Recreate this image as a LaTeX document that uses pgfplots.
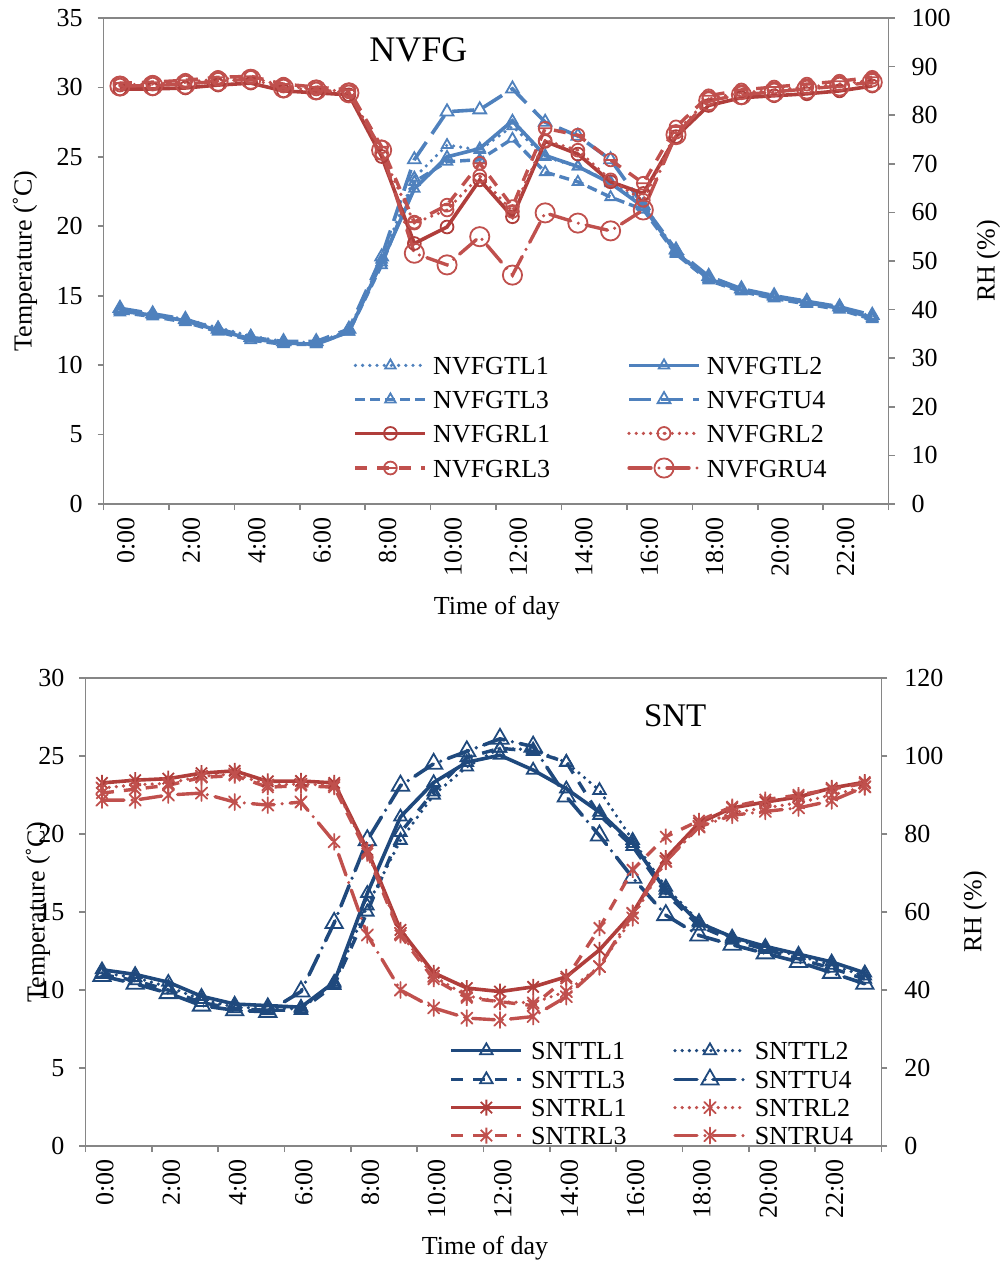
\documentclass[border=0pt]{standalone}
\usepackage{fontspec}
\setmainfont{Liberation Serif}
\usepackage{pgfplots}
\usepackage{pgfplotstable}
\pgfplotsset{compat=1.18}
\definecolor{tblue}{HTML}{4F81BD}
\definecolor{tred}{HTML}{C0504D}
\definecolor{tredd}{HTML}{B03E3B}
\definecolor{nblue}{HTML}{1F497D}
\definecolor{axgray}{HTML}{868686}
\newcommand\ft{\fontsize{13}{15.6}\selectfont}

\pgfdeclareplotmark{odot}{%
  \pgfpathcircle{\pgfpointorigin}{\pgfplotmarksize}\pgfusepathqstroke
  \pgfpathcircle{\pgfpointorigin}{0.8pt}\pgfusepathqfill}
\pgfdeclareplotmark{ominus}{%
  \pgfpathcircle{\pgfpointorigin}{\pgfplotmarksize}%
  \pgfpathmoveto{\pgfqpoint{-\pgfplotmarksize}{0pt}}%
  \pgfpathlineto{\pgfqpoint{\pgfplotmarksize}{0pt}}%
  \pgfusepathqstroke}
\pgfdeclareplotmark{xstar}{%
  \pgfpathmoveto{\pgfqpoint{0pt}{\pgfplotmarksize}}%
  \pgfpathlineto{\pgfqpoint{0pt}{-\pgfplotmarksize}}%
  \pgfpathmoveto{\pgfpointpolar{45}{\pgfplotmarksize}}%
  \pgfpathlineto{\pgfpointpolar{225}{\pgfplotmarksize}}%
  \pgfpathmoveto{\pgfpointpolar{135}{\pgfplotmarksize}}%
  \pgfpathlineto{\pgfpointpolar{315}{\pgfplotmarksize}}%
  \pgfusepathqstroke}

\pgfplotsset{
  tl1/.style={color=tblue, line width=1.8pt, dash pattern=on 0pt off 3.6pt, line cap=round, mark=triangle, mark size=3pt, mark options={solid, line width=0.9pt}},
  tl2/.style={color=tblue, line width=1.8pt, solid, mark=triangle, mark size=3pt, mark options={solid, line width=0.9pt}},
  tl3/.style={color=tblue, line width=1.7pt, dash pattern=on 5pt off 2.5pt, mark=triangle, mark size=3pt, mark options={solid, line width=0.9pt}},
  tu4/.style={color=tblue, line width=1.8pt, dash pattern=on 11pt off 5pt, mark=triangle, mark size=3.7pt, mark options={solid, line width=0.9pt}},
  rl1/.style={color=tredd, line width=1.8pt, solid, mark=o, mark size=3.2pt, mark options={solid, line width=0.9pt}},
  rl2/.style={color=tred, line width=1.8pt, dash pattern=on 0pt off 3.6pt, line cap=round, mark=odot, mark size=3.2pt, mark options={solid, line width=0.9pt}},
  rl3/.style={color=tred, line width=1.7pt, dash pattern=on 6pt off 5pt, mark=ominus, mark size=3.2pt, mark options={solid, line width=0.9pt}},
  ru4/.style={color=tred, line width=1.7pt, dash pattern=on 11pt off 4pt on 0pt off 4pt, line cap=round, mark=o, mark size=4.8pt, mark options={solid, line width=0.9pt}},
  sl1/.style={color=nblue, line width=1.8pt, solid, mark=triangle, mark size=3.6pt, mark options={solid, line width=0.9pt}},
  sl2/.style={color=nblue, line width=1.8pt, dash pattern=on 0pt off 3.6pt, line cap=round, mark=triangle, mark size=3.6pt, mark options={solid, line width=0.9pt}},
  sl3/.style={color=nblue, line width=1.7pt, dash pattern=on 6pt off 5pt, mark=triangle, mark size=3.6pt, mark options={solid, line width=0.9pt}},
  su4/.style={color=nblue, line width=1.8pt, dash pattern=on 11pt off 4pt on 0pt off 4pt, line cap=round, mark=triangle, mark size=5pt, mark options={solid, line width=0.9pt}},
  sr1/.style={color=tredd, line width=1.8pt, solid, mark=xstar, mark size=4pt, mark options={solid, line width=0.9pt}},
  sr2/.style={color=tred, line width=1.8pt, dash pattern=on 0pt off 3.6pt, line cap=round, mark=xstar, mark size=4pt, mark options={solid, line width=0.9pt}},
  sr3/.style={color=tred, line width=1.7pt, dash pattern=on 6pt off 5pt, mark=xstar, mark size=4pt, mark options={solid, line width=0.9pt}},
  sr4/.style={color=tred, line width=1.7pt, dash pattern=on 11pt off 4pt on 0pt off 4pt, line cap=round, mark=xstar, mark size=4pt, mark options={solid, line width=0.9pt}},
  base/.style={
    scale only axis, xmin=-0.5, xmax=23.5,
    axis line style={draw=axgray, line width=0.8pt},
    tick align=outside,
    major tick length=3pt, minor tick length=3pt,
    every tick/.style={draw=axgray, line width=0.8pt},
    tick label style={font=\ft},
    label style={font=\ft},
    /pgf/number format/assume math mode=true,
  },
}

\pgfplotstableread{
h TL1 TL2 TL3 TU4 RL1 RL2 RL3 RU4
0 14.0 13.9 13.8 14.1 85.4 86.2 86.6 86.0
1 13.7 13.6 13.5 13.7 85.4 86.4 86.8 86.1
2 13.3 13.2 13.1 13.3 85.6 86.8 87.2 86.4
3 12.7 12.5 12.4 12.6 86.2 87.4 87.8 87.0
4 12.1 11.9 11.8 12.0 86.6 87.8 88.0 87.4
5 11.7 11.6 11.5 11.7 85.0 86.0 86.4 85.6
6 11.6 11.5 11.5 11.7 84.6 85.4 85.8 85.2
7 12.5 12.4 12.4 12.6 84.2 84.8 85.2 84.6
8 17.6 17.4 17.2 17.8 71.5 72.2 73.5 72.8
9 23.5 22.7 23.2 24.8 53.6 57.8 58.0 51.6
10 25.85 25.0 24.65 28.25 57.0 60.5 61.5 49.2
11 25.5 25.6 24.8 28.4 66.7 67.5 70.1 55.0
12 27.2 27.6 26.3 29.9 59.1 60.2 61.2 47.1
13 25.0 25.1 23.9 27.5 74.6 74.8 77.3 59.9
14 24.3 24.3 23.2 26.5 72.0 72.8 75.9 57.8
15 23.2 23.1 22.1 24.8 66.3 66.7 70.8 56.2
16 21.6 21.4 21.2 21.5 63.9 62.5 66.0 60.5
17 18.2 18.1 18.0 18.3 75.6 76.5 77.6 76.0
18 16.3 16.2 16.1 16.4 82.0 83.4 84.0 83.0
19 15.4 15.4 15.3 15.5 83.6 84.6 85.2 84.2
20 14.9 14.9 14.8 15.0 84.0 85.2 85.8 84.8
21 14.6 14.5 14.4 14.6 84.4 85.8 86.4 85.4
22 14.2 14.1 14.0 14.2 85.0 86.4 87.0 86.0
23 13.5 13.4 13.3 13.6 86.0 87.2 87.8 86.8
}\topdata

\pgfplotstableread{
h TL1 TL2 TL3 TU4 RL1 RL2 RL3 RU4
0 11.3 11.1 11.0 10.9 93.1 91.8 90.5 88.7
1 11.0 10.8 10.6 10.4 93.8 92.6 91.5 88.7
2 10.5 10.2 10.0 9.8 94.2 93.0 92.5 90.0
3 9.6 9.4 9.2 9.0 95.6 94.8 94.5 90.5
4 9.1 8.9 8.8 8.7 96.2 95.4 95.0 88.2
5 9.0 8.8 8.7 8.6 93.5 92.6 92.0 87.4
6 8.9 8.8 8.7 9.9 93.6 92.8 92.4 88.2
7 10.5 10.4 10.3 14.3 93.1 92.5 92.0 78.0
8 16.2 15.4 15.0 19.6 75.9 75.5 75.0 54.1
9 21.1 19.6 20.1 23.1 55.4 54.5 54.0 40.0
10 23.3 22.5 22.7 24.5 44.4 43.5 42.8 35.4
11 24.6 24.3 24.9 25.3 40.5 38.5 38.0 32.8
12 25.05 25.5 25.5 26.1 39.6 37.0 37.0 32.3
13 24.1 25.4 25.3 25.6 40.8 36.7 36.0 33.2
14 22.9 24.6 24.6 22.4 43.4 39.6 43.0 38.3
15 21.4 22.8 21.2 19.9 50.3 46.0 55.9 46.0
16 19.4 19.6 19.2 17.2 59.7 58.5 70.8 59.7
17 16.4 16.6 16.2 14.8 73.8 73.0 79.3 73.0
18 14.3 14.4 14.1 13.5 82.8 82.0 83.4 81.8
19 13.4 13.3 13.2 12.9 86.7 85.5 87.0 84.8
20 12.8 12.7 12.6 12.35 88.2 86.7 88.8 85.8
21 12.3 12.2 12.0 11.8 89.5 88.0 90.0 86.7
22 11.8 11.6 11.4 11.1 91.8 90.0 91.5 88.5
23 11.1 10.9 10.7 10.4 93.3 92.1 93.0 92.1
}\botdata

\begin{document}
\begin{tikzpicture}
\useasboundingbox (0pt,0pt) rectangle (502pt,-631.5pt);

% ---------------- TOP PANEL ----------------
\begin{axis}[base,
  at={(51.8pt,-252pt)}, anchor=south west,
  width=392.5pt, height=243pt,
  ymin=0, ymax=35, ytick={0,5,...,35},
  ytick pos=left, xtick pos=bottom,
  xtick={0,2,...,22},
  xticklabels={0:00,2:00,4:00,6:00,8:00,10:00,12:00,14:00,16:00,18:00,20:00,22:00},
  minor xtick={-0.5,1.5,...,23.5},
  every major x tick/.append style={draw=none},
  xticklabel style={rotate=90, anchor=east, yshift=-3pt},
  yticklabel style={xshift=-4pt},
  xlabel={Time of day},
  xlabel style={at={(axis description cs:0.501,-0.214)}, anchor=center},
  ylabel={Temperature (˚C)},
  ylabel style={at={(axis description cs:-0.100,0.5)}, anchor=center},
]
\addplot[tl1] table[x=h,y=TL1]{\topdata};
\addplot[tl2] table[x=h,y=TL2]{\topdata};
\addplot[tl3] table[x=h,y=TL3]{\topdata};
\addplot[tu4] table[x=h,y=TU4]{\topdata};
\node[font=\fontsize{18}{21}\selectfont] at (axis description cs:0.401,0.934) {NVFG};
\end{axis}

\begin{axis}[base,
  at={(51.8pt,-252pt)}, anchor=south west,
  width=392.5pt, height=243pt,
  axis x line=none, axis y line*=right,
  ymin=0, ymax=100, ytick={0,10,...,100},
  yticklabel style={xshift=5pt},
  ylabel={RH (\%)},
  ylabel style={at={(axis description cs:1.127,0.5)}, anchor=center},
  legend columns=2, legend cell align=left,
  legend image code/.code={\draw[mark repeat=2,mark phase=2,#1] plot coordinates {(0pt,0pt) (17.5pt,0pt) (35pt,0pt)};},
  legend style={draw=none, fill=none, font=\ft,
    at={(axis description cs:0.318,0.3045)}, anchor=north west,
    inner sep=0pt, row sep=8pt,
    nodes={inner sep=0pt, text height=9pt, text depth=0pt, text width=58pt, align=left},
    /tikz/every odd column/.append style={column sep=3pt},
    /tikz/every even column/.append style={column sep=39pt}},
]
\addlegendimage{tl1}\addlegendentry{NVFGTL1}
\addlegendimage{tl2}\addlegendentry{NVFGTL2}
\addlegendimage{tl3}\addlegendentry{NVFGTL3}
\addlegendimage{tu4}\addlegendentry{NVFGTU4}
\addplot[rl1] table[x=h,y=RL1]{\topdata}; \addlegendentry{NVFGRL1}
\addplot[rl2] table[x=h,y=RL2]{\topdata}; \addlegendentry{NVFGRL2}
\addplot[rl3] table[x=h,y=RL3]{\topdata}; \addlegendentry{NVFGRL3}
\addplot[ru4] table[x=h,y=RU4]{\topdata}; \addlegendentry{NVFGRU4}
\end{axis}

% ---------------- BOTTOM PANEL ----------------
\begin{axis}[base,
  at={(42.7pt,-573pt)}, anchor=south west,
  width=398pt, height=234pt,
  ymin=0, ymax=30, ytick={0,5,...,30},
  ytick pos=left, xtick pos=bottom,
  xtick={0,2,...,22},
  xticklabels={0:00,2:00,4:00,6:00,8:00,10:00,12:00,14:00,16:00,18:00,20:00,22:00},
  minor xtick={-0.5,1.5,...,23.5},
  every major x tick/.append style={draw=none},
  xticklabel style={rotate=90, anchor=east, yshift=-1.5pt},
  yticklabel style={xshift=-4pt},
  xlabel={Time of day},
  xlabel style={at={(axis description cs:0.502,-0.218)}, anchor=center},
  ylabel={Temperature (˚C)},
  ylabel style={at={(axis description cs:-0.0595,0.5)}, anchor=center},
]
\addplot[sl1] table[x=h,y=TL1]{\botdata};
\addplot[sl2] table[x=h,y=TL2]{\botdata};
\addplot[sl3] table[x=h,y=TL3]{\botdata};
\addplot[su4] table[x=h,y=TU4]{\botdata};
\node[font=\fontsize{16.5}{19}\selectfont] at (axis description cs:0.741,0.919) {SNT};
\end{axis}

\begin{axis}[base,
  at={(42.7pt,-573pt)}, anchor=south west,
  width=398pt, height=234pt,
  axis x line=none, axis y line*=right,
  ymin=0, ymax=120, ytick={0,20,...,120},
  yticklabel style={xshift=5pt},
  ylabel={RH (\%)},
  ylabel style={at={(axis description cs:1.1176,0.5)}, anchor=center},
  legend columns=2, legend cell align=left,
  legend image code/.code={\draw[mark repeat=2,mark phase=2,#1] plot coordinates {(0pt,0pt) (17.5pt,0pt) (35pt,0pt)};},
  legend style={draw=none, fill=none, font=\ft,
    at={(axis description cs:0.457,0.224)}, anchor=north west,
    inner sep=0pt, row sep=5pt,
    nodes={inner sep=0pt, text height=9pt, text depth=0pt, text width=48pt, align=left},
    /tikz/every odd column/.append style={column sep=4pt},
    /tikz/every even column/.append style={column sep=23pt}},
]
\addlegendimage{sl1}\addlegendentry{SNTTL1}
\addlegendimage{sl2}\addlegendentry{SNTTL2}
\addlegendimage{sl3}\addlegendentry{SNTTL3}
\addlegendimage{su4}\addlegendentry{SNTTU4}
\addplot[sr1] table[x=h,y=RL1]{\botdata}; \addlegendentry{SNTRL1}
\addplot[sr2] table[x=h,y=RL2]{\botdata}; \addlegendentry{SNTRL2}
\addplot[sr3] table[x=h,y=RL3]{\botdata}; \addlegendentry{SNTRL3}
\addplot[sr4] table[x=h,y=RU4]{\botdata}; \addlegendentry{SNTRU4}
\end{axis}
\end{tikzpicture}
\end{document}
